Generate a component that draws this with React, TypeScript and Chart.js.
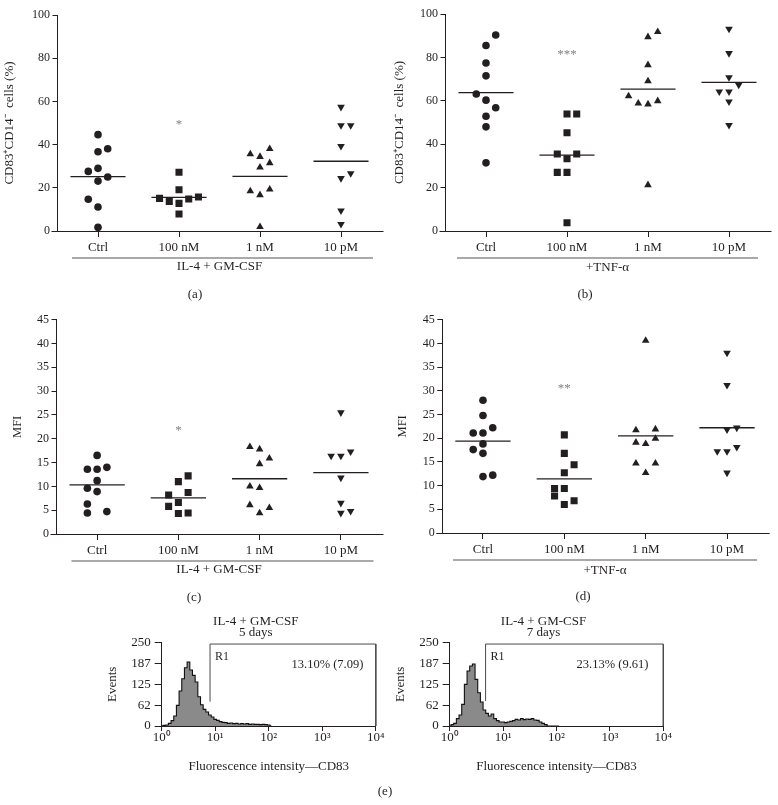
import { useEffect, useRef } from "react";
import { Chart, registerables } from "chart.js";

Chart.register(...registerables);

const FONT = "'Liberation Serif', 'Times New Roman', Times, serif";
const INK = "#231f20";
Chart.defaults.font.family = FONT;
Chart.defaults.color = INK;

const categories = ["Ctrl", "100 nM", "1 nM", "10 pM"];

// (a) CD83+CD14- cells (%), IL-4 + GM-CSF
const aCtrl = [44.6, 36.7, 38.1, 29.0, 27.6, 23.1, 25.0, 14.7, 11.1, 1.7];
const a100nM = [27.2, 19.1, 15.1, 13.7, 12.8, 14.8, 15.7, 7.9];
const a1nM = [35.6, 34.4, 38.0, 29.5, 31.5, 18.5, 16.7, 19.3, 1.9];
const a10pM = [57.4, 48.9, 48.9, 39.3, 24.4, 26.7, 9.4, 3.2];
const aMeans = [25.2, 15.6, 25.3, 32.3];
const aJitter = [
  [0, 0, 1, 0, -1, 0, 1, -1, 0, 0],
  [0, 0, -2, -1, 0, 1, 2, 0],
  [-1, 0, 1, 0, 1, -1, 0, 1, 0],
  [0, 0, 1, 0, 0, 1, 0, 0],
];

// (b) CD83+CD14- cells (%), +TNF-alpha
const bCtrl = [90.3, 85.5, 77.4, 71.5, 63.1, 60.3, 56.8, 52.9, 48.0, 31.4];
const b100nM = [53.9, 53.9, 45.3, 35.5, 35.5, 33.3, 27.0, 27.0, 3.8];
const b1nM = [89.4, 91.8, 76.5, 69.1, 62.2, 58.8, 58.4, 59.9, 21.2];
const b10pM = [93.1, 81.9, 70.8, 67.3, 64.2, 64.2, 59.6, 48.8];
const bMeans = [63.8, 35.0, 65.4, 68.5];
const bJitter = [
  [1, 0, 0, 0, -1, 0, 1, 0, 0, 0],
  [0, 1, 0, -1, 1, 0, -1, 0, 0],
  [0, 1, 0, 0, -2, -1, 0, 1, 0],
  [0, 0, 0, 1, -1, 0, 0, 0],
];

// (c) MFI, IL-4 + GM-CSF
const cCtrl = [16.5, 13.6, 13.6, 14.0, 11.2, 9.6, 8.9, 6.3, 4.4, 4.7];
const c100nM = [12.2, 11.0, 8.2, 8.7, 6.6, 5.8, 4.3, 4.4];
const c1nM = [18.3, 17.8, 15.9, 14.7, 10.0, 9.7, 6.1, 5.5, 4.4];
const c10pM = [25.5, 16.4, 16.4, 17.3, 11.8, 6.5, 4.4, 4.8];
const cMeans = [10.3, 7.6, 11.6, 12.9];
const cJitter = [
  [0, -1, 0, 1, 0, -1, 0, -1, -1, 1],
  [1, 0, -1, 1, 0, -1, 0, 1],
  [-1, 0, 1, 0, -1, 0, -1, 1, 0],
  [0, -1, 0, 1, 0, 0, 0, 1],
];

// (d) MFI, +TNF-alpha
const dCtrl = [28.0, 24.8, 21.1, 21.1, 22.2, 17.6, 18.8, 16.8, 11.9, 12.2];
const d100nM = [20.7, 16.8, 14.4, 12.7, 9.4, 9.4, 7.8, 6.8, 6.0];
const d1nM = [40.6, 21.7, 21.9, 19.1, 18.8, 19.9, 14.7, 14.7, 12.7];
const d10pM = [38.0, 31.2, 21.8, 22.2, 17.2, 17.2, 18.1, 12.7];
const dMeans = [19.4, 11.4, 20.5, 22.2];
const dJitter = [
  [0, 0, -1, 0, 1, -1, 0, 0, 0, 1],
  [0, 0, 1, 0, -1, 0, -1, 1, 0],
  [0, -1, 1, -1, 0, 1, -1, 1, 0],
  [0, 0, 0, 1, -1, 0, 1, 0],
];

const sigLabels = ["*", "***", "*", "**"];
const sigValues = [50.6, 82.6, 22.2, 31.0];

// (e) flow cytometry histograms (log decades of fluorescence, event counts)
const histDecades = [
  0, 0.05, 0.1, 0.15, 0.2, 0.25, 0.3, 0.35, 0.4, 0.45, 0.5, 0.55, 0.6, 0.65,
  0.7, 0.75, 0.8, 0.85, 0.9, 0.95, 1.0, 1.05, 1.1, 1.15, 1.2, 1.25, 1.3, 1.35,
  1.4, 1.45, 1.5, 1.55, 1.6, 1.65, 1.7, 1.75, 1.8, 1.85, 1.9, 1.95, 2.0, 2.05,
];
const events5days = [
  0, 2, 3, 8, 16, 30, 62, 105, 142, 175, 192, 168, 152, 132, 88, 64, 50, 42, 33,
  27, 20, 17, 13, 11, 10, 8, 9, 7, 8, 6, 7, 6, 7, 5, 6, 5, 5, 4, 5, 4, 3, 0,
];
const events7days = [
  0, 4, 8, 22, 33, 65, 125, 165, 180, 186, 140, 100, 72, 48, 38, 30, 36, 22, 16,
  12, 12, 10, 12, 14, 16, 20, 18, 22, 19, 21, 20, 22, 18, 17, 12, 8, 4, 0, 0, 0, 0, 0,
];
const decadeTicks = [1, 10, 100, 1000, 10000];
const decadeLabels = ["10\u2070", "10\u00B9", "10\u00B2", "10\u00B3", "10\u2074"];
const eventTicks = [0, 62.5, 125, 187.5, 250];
const eventLabels = ["0", "62", "125", "187", "250"];
const gateStart = [8.0, 4.7];
const gateLow = [73, 75];
const gateTop = 246;
const gateStats = ["13.10% (7.09)", "23.13% (9.61)"];
const histTitles = [["IL-4 + GM-CSF", "5 days"], ["IL-4 + GM-CSF", "7 days"]];

const CD83_TITLE = "CD83\u207ACD14\u207B  cells (%)";
const JIT = 0.12;
const MEAN_HALF = 0.34;

const markerStyles = [
  { pointStyle: "circle", radius: 3.8, rotation: 0 },
  { pointStyle: "rect", radius: 5, rotation: 0 },
  { pointStyle: "triangle", radius: 4.4, rotation: 0 },
  { pointStyle: "triangle", radius: 4.4, rotation: 180 },
];

const scatterPanels = [
  {
    box: { left: 0, top: 0, w: 390, h: 310 },
    area: { left: 57.5, right: 381.5, top: 15, bottom: 231 },
    groups: [aCtrl, a100nM, a1nM, a10pM], jitter: aJitter, means: aMeans,
    yMax: 100, yStep: 20, yTitle: CD83_TITLE, yTitleSize: 13, yTitleX: 10,
    group: "IL-4 + GM-CSF", groupDy: 36, groupLine: [14.5, 8.5], letter: "(a)", letterX: 195, sig: 0,
  },
  {
    box: { left: 390, top: 0, w: 388, h: 310 },
    area: { left: 55.5, right: 379.5, top: 14, bottom: 231 },
    groups: [bCtrl, b100nM, b1nM, b10pM], jitter: bJitter, means: bMeans,
    yMax: 100, yStep: 20, yTitle: CD83_TITLE, yTitleSize: 13, yTitleX: 10,
    group: "+TNF-\u03B1", groupDy: 37, groupLine: [11.5, 11.5], letter: "(b)", letterX: 195, sig: 1,
  },
  {
    box: { left: 0, top: 310, w: 390, h: 310 },
    area: { left: 56.5, right: 381.5, top: 8, bottom: 224 },
    groups: [cCtrl, c100nM, c1nM, c10pM], jitter: cJitter, means: cMeans,
    yMax: 45, yStep: 5, yTitle: "MFI", yTitleSize: 12.5, yTitleX: 18,
    group: "IL-4 + GM-CSF", groupDy: 36, groupLine: [15, 8], letter: "(c)", letterX: 194, sig: 2,
  },
  {
    box: { left: 390, top: 310, w: 388, h: 310 },
    area: { left: 52.3, right: 377.7, top: 8, bottom: 223 },
    groups: [dCtrl, d100nM, d1nM, d10pM], jitter: dJitter, means: dMeans,
    yMax: 45, yStep: 5, yTitle: "MFI", yTitleSize: 12.5, yTitleX: 13,
    group: "+TNF-\u03B1", groupDy: 37.5, groupLine: [10.7, 10.7], letter: "(d)", letterX: 193, sig: 3,
  },
];

const histPanels = [
  {
    box: { left: 100, top: 612, w: 300, h: 193 },
    area: { left: 61.7, right: 275.8, top: 30.7, bottom: 114 },
    counts: events5days, idx: 0, statX: 1250, letter: "(e)", letterX: 285, letterY: 180,
  },
  {
    box: { left: 388, top: 612, w: 300, h: 193 },
    area: { left: 61.7, right: 275.3, top: 30.7, bottom: 114 },
    counts: events7days, idx: 1, statX: 1120, letter: "", letterX: 0, letterY: 0,
  },
];

const panelDecor = {
  id: "panelDecor",
  afterDraw(chart: any, _args: any, o: any) {
    const { ctx, chartArea: a, scales } = chart;
    ctx.save();
    ctx.strokeStyle = INK;
    ctx.lineWidth = 1;
    const yb = Math.round(a.bottom) + 0.5;
    ctx.beginPath();
    ctx.moveTo(a.left - 6, yb);
    ctx.lineTo(a.right + 2, yb);
    ctx.stroke();
    // group bar under the category labels
    ctx.strokeStyle = "#8d8d8d";
    ctx.lineWidth = 1.6;
    ctx.beginPath();
    ctx.moveTo(a.left + o.groupLine[0], a.bottom + 27);
    ctx.lineTo(a.right - o.groupLine[1], a.bottom + 27);
    ctx.stroke();
    // significance
    ctx.fillStyle = "#808285";
    ctx.font = `13px ${FONT}`;
    ctx.textAlign = "center";
    ctx.textBaseline = "middle";
    ctx.fillText(o.sigText, scales.x.getPixelForValue(1), scales.y.getPixelForValue(o.sigValue) + 2.5);
    // panel letter
    ctx.fillStyle = INK;
    ctx.fillText(o.letter, o.letterX, a.bottom + 64);
    ctx.restore();
  },
};

const histDecor = {
  id: "histDecor",
  afterDraw(chart: any, _args: any, o: any) {
    const { ctx, chartArea: a, scales } = chart;
    const { x, y } = scales;
    ctx.save();
    ctx.fillStyle = INK;
    ctx.textBaseline = "middle";
    ctx.textAlign = "center";
    ctx.font = `13px ${FONT}`;
    const cx = (a.left + a.right) / 2 - 13;
    o.title.forEach((t: string, i: number) => ctx.fillText(t, cx, a.top - 20.7 + i * 11));
    ctx.font = `12px ${FONT}`;
    ctx.textAlign = "left";
    ctx.fillText("R1", x.getPixelForValue(o.gateX) + 5, y.getPixelForValue(207));
    ctx.font = `12.5px ${FONT}`;
    ctx.textAlign = "center";
    ctx.fillText(o.stat, x.getPixelForValue(o.statX), y.getPixelForValue(183));
    if (o.letter) {
      ctx.font = `13px ${FONT}`;
      ctx.fillText(o.letter, o.letterX, o.letterY);
    }
    ctx.restore();
  },
};

function scatterConfig(p: any) {
  const { box, area } = p;
  const datasets: any[] = [];
  p.groups.forEach((vals: number[], gi: number) => {
    const m = markerStyles[gi];
    datasets.push({
      data: vals.map((v, k) => ({ x: gi + p.jitter[gi][k] * JIT, y: v })),
      pointStyle: m.pointStyle,
      pointRadius: m.radius,
      pointRotation: m.rotation,
      pointBackgroundColor: INK,
      pointBorderColor: INK,
      pointBorderWidth: 0,
      showLine: false,
    });
  });
  p.means.forEach((mv: number, gi: number) => {
    datasets.push({
      data: [
        { x: gi - MEAN_HALF, y: mv },
        { x: gi + MEAN_HALF, y: mv },
      ],
      showLine: true,
      borderColor: INK,
      borderWidth: 1.3,
      pointRadius: 0,
      fill: false,
    });
  });
  const xHeight = box.h - area.bottom;
  const titlePad = xHeight - p.groupDy - 7.8;
  return {
    type: "scatter",
    data: { datasets },
    plugins: [panelDecor],
    options: {
      responsive: false,
      animation: false,
      events: [],
      layout: { padding: { left: 0, top: area.top, right: box.w - area.right, bottom: 0 } },
      plugins: {
        legend: { display: false },
        tooltip: { enabled: false },
        panelDecor: {
          groupLine: p.groupLine,
          sigText: sigLabels[p.sig],
          sigValue: sigValues[p.sig],
          letter: p.letter,
          letterX: p.letterX,
        },
      },
      scales: {
        x: {
          type: "linear",
          min: -0.5,
          max: 3.5,
          afterBuildTicks: (s: any) => {
            s.ticks = categories.map((_c, i) => ({ value: i }));
          },
          afterFit: (s: any) => {
            s.height = xHeight;
          },
          ticks: {
            callback: (_v: any, i: number) => categories[i],
            font: { family: FONT, size: 13 },
            color: INK,
            padding: 3,
            maxRotation: 0,
            autoSkip: false,
          },
          grid: { display: true, drawOnChartArea: false, drawTicks: true, tickLength: 6, color: INK, lineWidth: 1 },
          border: { display: false },
          title: {
            display: true,
            text: p.group,
            font: { family: FONT, size: 13 },
            color: INK,
            padding: { top: 0, bottom: titlePad },
          },
        },
        y: {
          type: "linear",
          min: 0,
          max: p.yMax,
          afterFit: (s: any) => {
            s.width = area.left;
          },
          ticks: { stepSize: p.yStep, font: { family: FONT, size: 12 }, color: INK, padding: 2.5 },
          grid: { display: true, drawOnChartArea: false, drawTicks: true, tickLength: 5, color: INK, lineWidth: 1 },
          border: { display: true, color: INK, width: 1 },
          title: {
            display: true,
            text: p.yTitle,
            font: { family: FONT, size: p.yTitleSize },
            color: INK,
            padding: { top: p.yTitleX - (p.yTitleSize * 1.2) / 2, bottom: 0 },
          },
        },
      },
    },
  };
}

function histConfig(h: any) {
  const { box, area, idx } = h;
  const xHeight = box.h - area.bottom;
  // x title centre sits 38 px above the canvas bottom
  const xTitlePad = 38 - 7.8;
  return {
    type: "scatter",
    data: {
      datasets: [
        {
          data: histDecades.map((d, i) => ({ x: Math.pow(10, d), y: h.counts[i] })),
          showLine: true,
          stepped: "middle",
          fill: "origin",
          backgroundColor: "#8a8a8a",
          borderColor: "#111111",
          borderWidth: 1.1,
          pointRadius: 0,
        },
        {
          data: [
            { x: gateStart[idx], y: gateLow[idx] },
            { x: gateStart[idx], y: gateTop },
            { x: 10000, y: gateTop },
            { x: 10000, y: 0 },
          ],
          showLine: true,
          borderColor: "#4a4a4a",
          borderWidth: 1,
          pointRadius: 0,
          fill: false,
          clip: false,
        },
      ],
    },
    plugins: [histDecor],
    options: {
      responsive: false,
      animation: false,
      events: [],
      layout: { padding: { left: 0, top: area.top, right: box.w - area.right, bottom: 0 } },
      plugins: {
        legend: { display: false },
        tooltip: { enabled: false },
        histDecor: {
          title: histTitles[idx],
          gateX: gateStart[idx],
          stat: gateStats[idx],
          statX: h.statX,
          letter: h.letter,
          letterX: h.letterX,
          letterY: h.letterY,
        },
      },
      scales: {
        x: {
          type: "logarithmic",
          min: 1,
          max: 10000,
          afterBuildTicks: (s: any) => {
            s.ticks = decadeTicks.map((v) => ({ value: v }));
          },
          afterFit: (s: any) => {
            s.height = xHeight;
          },
          ticks: {
            callback: (_v: any, i: number) => decadeLabels[i],
            font: { family: FONT, size: 13 },
            color: INK,
            padding: -1,
            maxRotation: 0,
            autoSkip: false,
          },
          grid: { display: true, drawOnChartArea: false, drawTicks: true, tickLength: 5, color: INK, lineWidth: 1 },
          border: { display: true, color: INK, width: 1 },
          title: {
            display: true,
            text: "Fluorescence intensity\u2014CD83",
            font: { family: FONT, size: 13 },
            color: INK,
            padding: { top: 0, bottom: xTitlePad },
          },
        },
        y: {
          type: "linear",
          min: 0,
          max: 250,
          afterBuildTicks: (s: any) => {
            s.ticks = eventTicks.map((v) => ({ value: v }));
          },
          afterFit: (s: any) => {
            s.width = area.left;
          },
          ticks: {
            callback: (_v: any, i: number) => eventLabels[i],
            font: { family: FONT, size: 13 },
            color: INK,
            padding: 4,
          },
          grid: { display: true, drawOnChartArea: false, drawTicks: true, tickLength: 7, color: INK, lineWidth: 1 },
          border: { display: true, color: INK, width: 1 },
          title: {
            display: true,
            text: "Events",
            font: { family: FONT, size: 13 },
            color: INK,
            padding: { top: 5.2, bottom: 0 },
          },
        },
      },
    },
  };
}

function ChartCanvas({ box, make }: { box: any; make: () => any }) {
  const ref = useRef<HTMLCanvasElement | null>(null);
  useEffect(() => {
    if (!ref.current) return;
    const chart = new Chart(ref.current, make());
    return () => chart.destroy();
  }, []);
  return (
    <canvas
      ref={ref}
      width={box.w}
      height={box.h}
      style={{ position: "absolute", left: box.left, top: box.top, width: box.w, height: box.h }}
    />
  );
}

export default function App() {
  return (
    <div style={{ position: "absolute", left: 0, top: 0, width: 778, height: 805, background: "#fff", overflow: "hidden" }}>
      {scatterPanels.map((p, i) => (
        <ChartCanvas key={"s" + i} box={p.box} make={() => scatterConfig(p)} />
      ))}
      {histPanels.map((h, i) => (
        <ChartCanvas key={"h" + i} box={h.box} make={() => histConfig(h)} />
      ))}
    </div>
  );
}
